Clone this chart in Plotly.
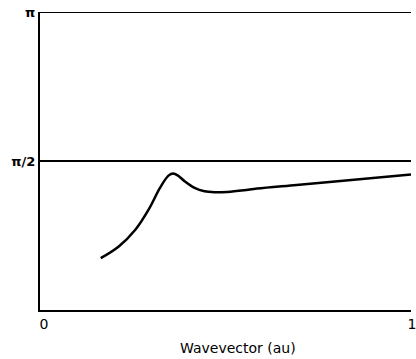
import numpy as np
import plotly.graph_objects as go

# Phase versus wavevector
wavevector = [0.165, 0.214, 0.259, 0.295, 0.326, 0.349, 0.362, 0.375, 0.393,
              0.420, 0.447, 0.474, 0.509, 0.554, 0.590, 0.697, 0.831, 1.008]
phase = [0.547, 0.670, 0.846, 1.058, 1.287, 1.417, 1.439, 1.417, 1.357,
         1.287, 1.251, 1.241, 1.245, 1.262, 1.280, 1.318, 1.366, 1.428]

# Reference levels drawn across the full width
levels = [np.pi, np.pi / 2]

x_ticks = [0, 1]
x_tick_text = ["0", "1"]
y_ticks = [np.pi / 2, np.pi]
y_tick_text = ["<b>\u03c0/2</b>", "<b>\u03c0</b>"]

FONT = "DejaVu Sans"

fig = go.Figure()
fig.add_trace(go.Scatter(
    x=wavevector, y=phase, mode="lines",
    line=dict(color="black", width=2.5, shape="spline", smoothing=1.0),
    showlegend=False, hoverinfo="skip",
))

for lv in levels:
    fig.add_shape(type="line", xref="paper", yref="y", x0=0, x1=1, y0=lv, y1=lv,
                  line=dict(color="black", width=2))

fig.update_layout(
    width=416, height=359,
    margin=dict(l=40, r=0, t=12, b=49),
    paper_bgcolor="white", plot_bgcolor="white",
    font=dict(family=FONT, color="black", size=13),
    xaxis=dict(
        range=[0, 1.008], showgrid=False, zeroline=False,
        showline=True, linecolor="black", linewidth=2,
        tickvals=x_ticks, ticktext=x_tick_text, ticks="",
        ticklabelshift=4, ticklabeloverflow="allow", tickfont=dict(size=14),
    ),
    yaxis=dict(
        range=[0, np.pi], showgrid=False, zeroline=False,
        showline=True, linecolor="black", linewidth=2,
        tickvals=y_ticks, ticktext=y_tick_text, ticks="",
        tickfont=dict(size=13),
    ),
    annotations=[dict(
        text="Wavevector (au)", x=0.539, xref="x", y=0, yref="paper",
        yshift=-48, showarrow=False, font=dict(size=14, family=FONT),
    )],
)

fig.write_html("out.html")
